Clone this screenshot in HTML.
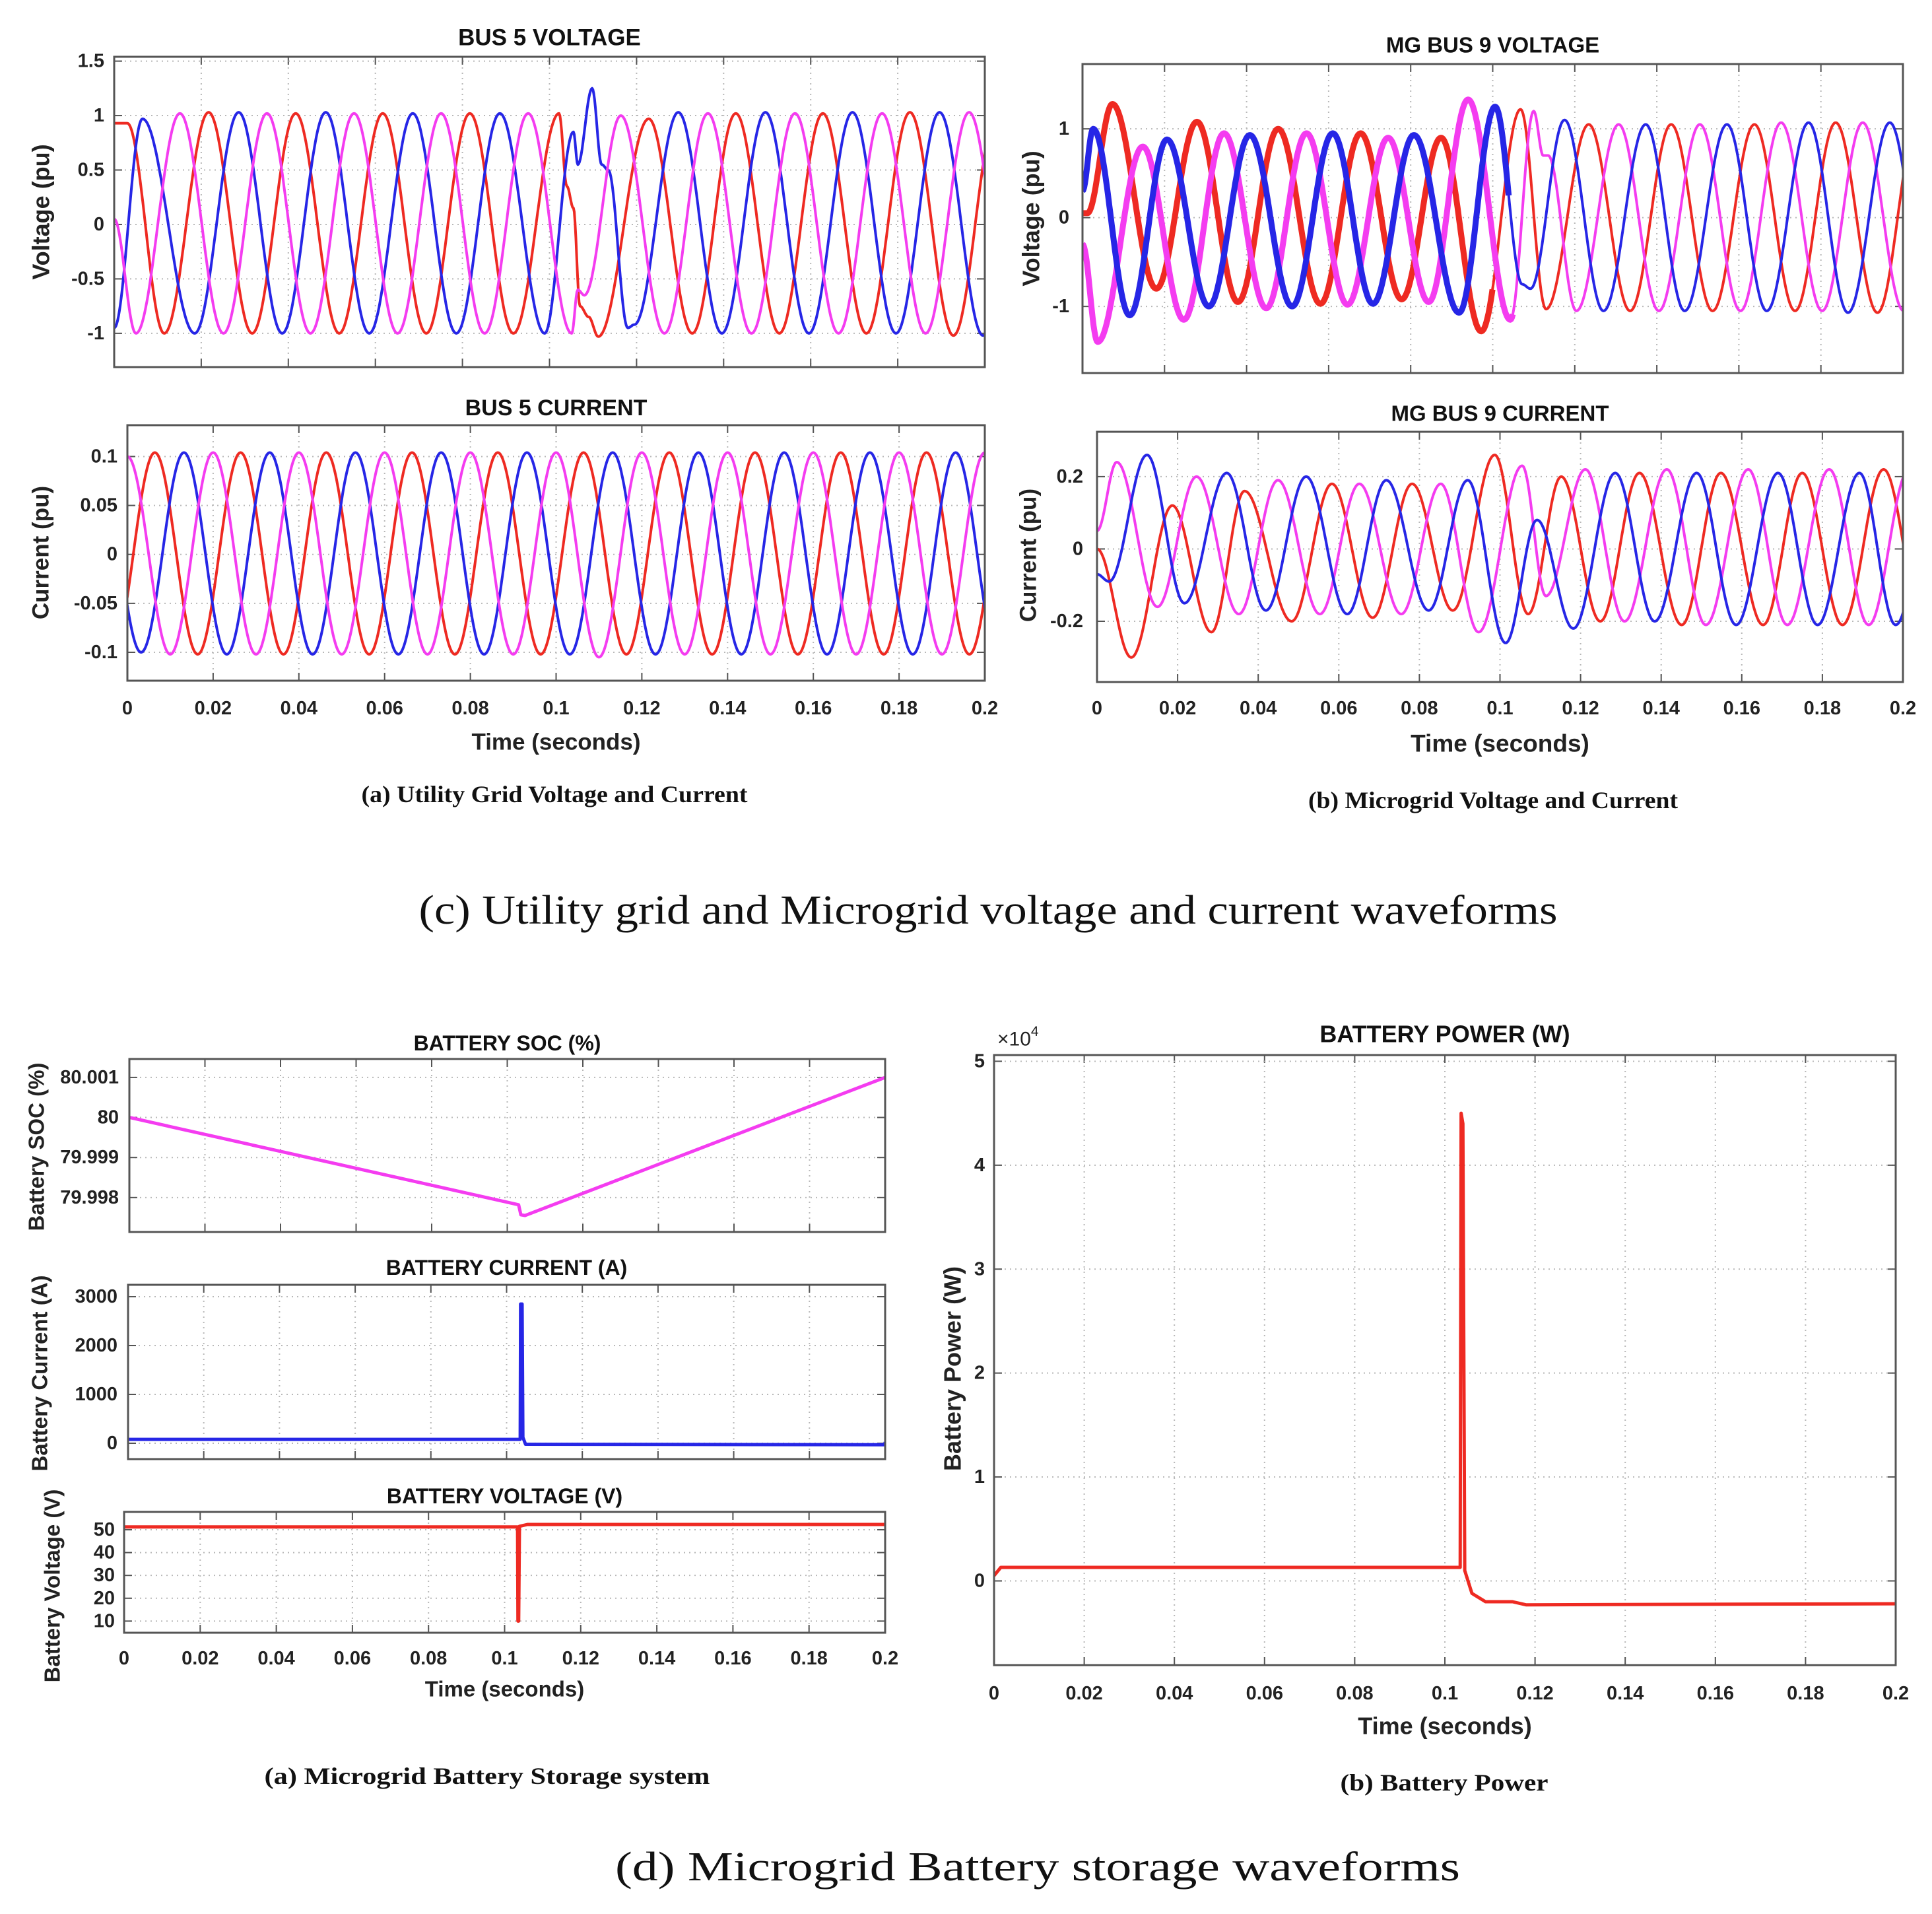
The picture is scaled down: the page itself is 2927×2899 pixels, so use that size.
<!DOCTYPE html>
<html><head><meta charset="utf-8">
<style>
html,body{margin:0;padding:0;background:#fff;}
svg{display:block;}
.tk{font-family:"Liberation Sans",Arial,sans-serif;font-weight:bold;font-size:28px;fill:#222;}
.ttl{font-family:"Liberation Sans",Arial,sans-serif;font-weight:bold;font-size:30px;fill:#111;}
.cap{font-family:"Liberation Serif","Times New Roman",serif;font-weight:bold;font-size:36px;fill:#111;}
.big{font-family:"Liberation Serif","Times New Roman",serif;font-size:62px;fill:#111;}
</style></head>
<body>
<svg id="fig" xmlns="http://www.w3.org/2000/svg" width="2927" height="2899" viewBox="0 0 2927 2899">
<rect x="0" y="0" width="2927" height="2899" fill="#fff"/>
<text class="big" x="1497" y="1379" text-anchor="middle" dominant-baseline="central" textLength="1725" lengthAdjust="spacingAndGlyphs">(c) Utility grid and Microgrid voltage and current waveforms</text>
<text class="big" x="1572" y="2828" text-anchor="middle" dominant-baseline="central" textLength="1280" lengthAdjust="spacingAndGlyphs">(d) Microgrid Battery storage waveforms</text>
<text class="cap" x="840" y="1203" text-anchor="middle" dominant-baseline="central" textLength="585" lengthAdjust="spacingAndGlyphs">(a) Utility Grid Voltage and Current</text>
<text class="cap" x="2262" y="1212" text-anchor="middle" dominant-baseline="central" textLength="560" lengthAdjust="spacingAndGlyphs">(b) Microgrid Voltage and Current</text>
<text class="cap" x="738" y="2690" text-anchor="middle" dominant-baseline="central" textLength="675" lengthAdjust="spacingAndGlyphs">(a) Microgrid Battery Storage system</text>
<text class="cap" x="2188" y="2700" text-anchor="middle" dominant-baseline="central" textLength="315" lengthAdjust="spacingAndGlyphs">(b) Battery Power</text>
</svg>
<script>
// ---- data (knots: [time s, value]) ----
const xTicks = [0,0.02,0.04,0.06,0.08,0.1,0.12,0.14,0.16,0.18,0.2];
const xTickLabels = ["0","0.02","0.04","0.06","0.08","0.1","0.12","0.14","0.16","0.18","0.2"];

const bus5VRed = [[0,0.93],[0.003,0.93],[0.0115,-1],[0.0217,1.03],[0.0317,-1],[0.0417,1.02],[0.0517,-1],[0.0617,1.02],[0.0717,-1],[0.0817,1.02],[0.0917,-1],[0.1022,1.02],[0.104,0.35],[0.1055,0.15],[0.107,-0.75],[0.109,-0.85],[0.1112,-1.03],[0.1228,0.97],[0.1328,-1],[0.1428,1.02],[0.1528,-1],[0.1628,1.02],[0.1728,-1],[0.1828,1.03],[0.1928,-1.02],[0.2028,1.02]];
const bus5VBlue = [[0,-0.95],[0.0065,0.97],[0.0185,-1],[0.0286,1.03],[0.0386,-1],[0.0486,1.03],[0.0586,-1],[0.0686,1.02],[0.0786,-1],[0.0886,1.02],[0.0989,-1],[0.1055,0.85],[0.1065,0.55],[0.1098,1.25],[0.112,0.55],[0.1135,0.5],[0.118,-0.95],[0.1195,-0.92],[0.1296,1.03],[0.1396,-1],[0.1496,1.03],[0.1596,-1],[0.1696,1.03],[0.1796,-1],[0.1896,1.03],[0.1996,-1.02],[0.2096,1]];
const bus5VPink = [[0,0.05],[0.005,-1],[0.0151,1.02],[0.0251,-1],[0.0351,1.02],[0.0451,-1],[0.0551,1.02],[0.0651,-1],[0.0751,1.02],[0.0851,-1],[0.0951,1.02],[0.1051,-1],[0.1065,-0.6],[0.108,-0.65],[0.1164,1.0],[0.1264,-1],[0.1364,1.02],[0.1464,-1],[0.1564,1.02],[0.1664,-1],[0.1764,1.02],[0.1864,-1],[0.1964,1.03],[0.2064,-1]];

const bus5IRed = [[-0.0036,-0.102],[0.0064,0.104],[0.0164,-0.102],[0.0264,0.104],[0.0364,-0.102],[0.0464,0.104],[0.0564,-0.102],[0.0664,0.104],[0.0764,-0.102],[0.0864,0.104],[0.0964,-0.102],[0.1064,0.104],[0.1164,-0.102],[0.1264,0.104],[0.1364,-0.102],[0.1464,0.104],[0.1564,-0.102],[0.1664,0.104],[0.1764,-0.102],[0.1864,0.104],[0.1964,-0.102],[0.2064,0.104]];
const bus5IBlue = [[-0.0068,0.104],[0.0032,-0.1],[0.0132,0.104],[0.0232,-0.102],[0.0332,0.104],[0.0432,-0.102],[0.0532,0.104],[0.0632,-0.102],[0.0732,0.104],[0.0832,-0.102],[0.0932,0.104],[0.1032,-0.102],[0.1132,0.104],[0.1232,-0.102],[0.1332,0.104],[0.1432,-0.102],[0.1532,0.104],[0.1632,-0.102],[0.1732,0.104],[0.1832,-0.102],[0.1932,0.104],[0.2032,-0.102]];
const bus5IPink = [[0,0.1],[0.01,-0.102],[0.02,0.104],[0.03,-0.102],[0.04,0.104],[0.05,-0.102],[0.06,0.104],[0.07,-0.102],[0.08,0.104],[0.09,-0.102],[0.1,0.104],[0.11,-0.105],[0.12,0.104],[0.13,-0.102],[0.14,0.104],[0.15,-0.102],[0.16,0.104],[0.17,-0.102],[0.18,0.104],[0.19,-0.102],[0.2,0.104]];

const mgVRed = [[0,0.05],[0.0012,0.05],[0.0073,1.28],[0.018,-0.8],[0.0279,1.08],[0.0379,-0.95],[0.0477,1.0],[0.058,-0.97],[0.0678,0.95],[0.0778,-0.92],[0.0874,0.9],[0.0972,-1.28],[0.1068,1.22],[0.113,-1.03],[0.1234,1.05],[0.1335,-1.05],[0.1435,1.05],[0.1536,-1.05],[0.1638,1.05],[0.1737,-1.05],[0.1836,1.07],[0.1938,-1.07],[0.2036,1.07]];
const mgVBlue = [[0,0.3],[0.0026,1.0],[0.0115,-1.1],[0.0206,0.88],[0.0308,-1.0],[0.0408,0.93],[0.0511,-1.0],[0.061,0.95],[0.0708,-0.97],[0.0808,0.93],[0.0918,-1.07],[0.1006,1.25],[0.1072,-0.75],[0.1092,-0.8],[0.1175,1.1],[0.127,-1.05],[0.1373,1.05],[0.1468,-1.05],[0.1571,1.05],[0.1668,-1.05],[0.177,1.07],[0.1866,-1.07],[0.1968,1.07],[0.2066,-1.05]];
const mgVPink = [[0,-0.3],[0.0037,-1.4],[0.0147,0.8],[0.0247,-1.15],[0.0345,0.95],[0.0448,-1.02],[0.0546,0.95],[0.0646,-0.98],[0.0745,0.9],[0.0844,-0.95],[0.094,1.33],[0.1043,-1.15],[0.110,1.2],[0.1123,0.7],[0.1135,0.7],[0.1204,-1.05],[0.1307,1.05],[0.1405,-1.05],[0.1505,1.05],[0.1604,-1.05],[0.1703,1.07],[0.1803,-1.05],[0.1902,1.07],[0.2002,-1.05]];

const mgIRed = [[0,0.0],[0.0085,-0.3],[0.0187,0.12],[0.0284,-0.23],[0.0366,0.16],[0.0483,-0.2],[0.0583,0.18],[0.0684,-0.19],[0.0782,0.18],[0.0883,-0.17],[0.0987,0.26],[0.107,-0.18],[0.1152,0.2],[0.1249,-0.2],[0.1346,0.21],[0.1451,-0.21],[0.1548,0.21],[0.1653,-0.21],[0.175,0.21],[0.185,-0.21],[0.1952,0.22],[0.2052,-0.21]];
const mgIBlue = [[0,-0.07],[0.003,-0.09],[0.0124,0.26],[0.0217,-0.15],[0.0322,0.21],[0.0419,-0.17],[0.0519,0.2],[0.0621,-0.18],[0.0718,0.19],[0.0823,-0.17],[0.092,0.19],[0.1014,-0.26],[0.1092,0.08],[0.1182,-0.22],[0.1286,0.21],[0.1384,-0.2],[0.1488,0.21],[0.1586,-0.21],[0.169,0.21],[0.1788,-0.21],[0.1892,0.21],[0.1982,-0.21],[0.2082,0.21]];
const mgIPink = [[0,0.05],[0.0049,0.24],[0.015,-0.16],[0.0247,0.2],[0.0352,-0.18],[0.0449,0.19],[0.0553,-0.18],[0.0651,0.18],[0.0755,-0.18],[0.0853,0.18],[0.0947,-0.23],[0.1055,0.23],[0.1114,-0.13],[0.1212,0.22],[0.1309,-0.2],[0.1414,0.22],[0.1511,-0.21],[0.1616,0.22],[0.1713,-0.21],[0.1817,0.22],[0.1915,-0.21],[0.2015,0.22]];

const socSeries = [[0,80.0],[0.103,79.99782],[0.1036,79.99757],[0.1047,79.99755],[0.2,80.001]];
const batCurrent = [[0,80],[0.1036,80],[0.1037,2850],[0.1041,2850],[0.1043,120],[0.105,-20],[0.2,-30],[0.2,30]];
const batVoltage = [[0,51.2],[0.1034,51.2],[0.1035,10],[0.1037,10],[0.1039,51.5],[0.106,52.3],[0.2,52.3]];
const batPower = [[0,0.05],[0.0015,0.13],[0.1034,0.13],[0.1036,4.5],[0.104,4.4],[0.1044,0.1],[0.106,-0.12],[0.109,-0.2],[0.115,-0.2],[0.118,-0.23],[0.2,-0.22]];

// ---- drawing ----
const NS = "http://www.w3.org/2000/svg";
const svg = document.getElementById('fig');
const RED = '#ee2a22', BLUE = '#2626e6', PINK = '#f43cf0';
function mk(tag, attrs, parent) {
  const e = document.createElementNS(NS, tag);
  for (const k in attrs) e.setAttribute(k, attrs[k]);
  (parent || svg).appendChild(e);
  return e;
}
let clipId = 0;
function axes(c) {
  const g = mk('g', {});
  
  
  const [x0, y0, x1, y1] = c.box;
  const sx = t => x0 + (t / 0.2) * (x1 - x0);
  const sy = v => y1 - (v - c.ymin) / (c.ymax - c.ymin) * (y1 - y0);
  xTicks.forEach((t, i) => {
    if (i > 0 && i < xTicks.length - 1) {
      const gl = mk('line', {x1: sx(t), x2: sx(t), y1: y0, y2: y1, stroke: '#b8b8b8', 'stroke-width': 2, 'stroke-dasharray': '2,6'}, g);
      
      
    }
    mk('line', {x1: sx(t), x2: sx(t), y1: y1, y2: y1 - 12, stroke: '#555', 'stroke-width': 2}, g);
    mk('line', {x1: sx(t), x2: sx(t), y1: y0, y2: y0 + 12, stroke: '#555', 'stroke-width': 2}, g);
    if (c.xlabels) {
      const tl = mk('text', {x: sx(t), y: c.xlabelY, 'text-anchor': 'middle', 'dominant-baseline': 'central', class: 'tk', style: 'font-size:' + (c.tickSize || 29) + 'px'}, g);
      tl.textContent = xTickLabels[i];
      
      
    }
  });
  c.yticks.forEach((v, i) => {
    const y = sy(v);
    const gl = mk('line', {x1: x0, x2: x1, y1: y, y2: y, stroke: '#b8b8b8', 'stroke-width': 2, 'stroke-dasharray': '2,6'}, g);
    
    
    mk('line', {x1: x0, x2: x0 + 12, y1: y, y2: y, stroke: '#555', 'stroke-width': 2}, g);
    mk('line', {x1: x1, x2: x1 - 12, y1: y, y2: y, stroke: '#555', 'stroke-width': 2}, g);
    const tl = mk('text', {x: c.ylabRight, y: y, 'text-anchor': 'end', 'dominant-baseline': 'central', class: 'tk', style: 'font-size:' + (c.tickSize || 29) + 'px'}, g);
    tl.textContent = c.ytickLabels[i];
    
    
  });
  const id = 'clip' + (clipId++);
  const cp = mk('clipPath', {id: id}, g);
  mk('rect', {x: x0, y: y0, width: x1 - x0, height: y1 - y0}, cp);
  c.series.forEach(s => {
    let pts = [];
    const d = s.data;
    if (s.smooth) {
      for (let k = 0; k < d.length - 1; k++) {
        const [ta, va] = d[k], [tb, vb] = d[k + 1];
        const n = Math.max(2, Math.ceil((tb - ta) / 0.0002));
        for (let j = 0; j < n; j++) {
          const u = j / n;
          const v = va + (vb - va) * (1 - Math.cos(Math.PI * u)) / 2;
          pts.push(sx(ta + (tb - ta) * u).toFixed(1) + ',' + sy(v).toFixed(1));
        }
      }
      const L = d[d.length - 1];
      pts.push(sx(L[0]).toFixed(1) + ',' + sy(L[1]).toFixed(1));
    } else {
      pts = d.map(p => sx(p[0]).toFixed(1) + ',' + sy(p[1]).toFixed(1));
    }
    if (s.thickUntil) {
      const thick = mk('polyline', {points: pts.filter(p => +p.split(',')[0] <= sx(s.thickUntil)).join(' '), fill: 'none', stroke: s.color, 'stroke-width': 9, 'stroke-linejoin': 'round', 'clip-path': 'url(#' + id + ')'}, g);
      
      
    }
    const pl = mk('polyline', {points: pts.join(' '), fill: 'none', stroke: s.color, 'stroke-width': s.w || 4, 'stroke-linejoin': 'round', 'clip-path': 'url(#' + id + ')'}, g);
    
    
  });
  const fr = mk('rect', {x: x0, y: y0, width: x1 - x0, height: y1 - y0, fill: 'none', stroke: '#555', 'stroke-width': 3}, g);
  
  
  const tt = mk('text', {x: (x0 + x1) / 2, y: c.titleY, 'text-anchor': 'middle', 'dominant-baseline': 'central', class: 'ttl', style: 'font-size:' + c.titleSize + 'px'}, g);
  tt.textContent = c.title;
  
  
  const yl = mk('text', {x: 0, y: 0, 'text-anchor': 'middle', 'dominant-baseline': 'central', class: 'tk', style: 'font-size:' + c.ylabSize + 'px', transform: 'translate(' + c.ylabX + ',' + c.ylabY + ') rotate(-90)'}, g);
  yl.textContent = c.ylabel;
  
  
  if (c.xtitleY) {
    const xt = mk('text', {x: (x0 + x1) / 2, y: c.xtitleY, 'text-anchor': 'middle', 'dominant-baseline': 'central', class: 'tk', style: 'font-size:' + c.xtitleSize + 'px'}, g);
    xt.textContent = 'Time (seconds)';
    
    
  }
}

axes({name: 'bus5-voltage-plot', box: [173, 86, 1492, 556], ymin: -1.31, ymax: 1.54, yticks: [-1, -0.5, 0, 0.5, 1, 1.5], ytickLabels: ['-1', '-0.5', '0', '0.5', '1', '1.5'], ylabRight: 158, title: 'BUS 5 VOLTAGE', titleY: 57, titleSize: 35, ylabel: 'Voltage (pu)', ylabSize: 36, ylabX: 62, ylabY: 321,
  series: [{name: 'bus5-voltage-red', data: bus5VRed, color: RED, smooth: 1}, {name: 'bus5-voltage-blue', data: bus5VBlue, color: BLUE, smooth: 1}, {name: 'bus5-voltage-pink', data: bus5VPink, color: PINK, smooth: 1}]});
axes({name: 'bus5-current-plot', box: [193, 644, 1492, 1031], ymin: -0.129, ymax: 0.132, yticks: [-0.1, -0.05, 0, 0.05, 0.1], ytickLabels: ['-0.1', '-0.05', '0', '0.05', '0.1'], ylabRight: 178, title: 'BUS 5 CURRENT', titleY: 618, titleSize: 34, ylabel: 'Current (pu)', ylabSize: 35, ylabX: 62, ylabY: 837,
  xlabels: 1, xlabelY: 1073, xtitleY: 1124, xtitleSize: 35,
  series: [{name: 'bus5-current-red', data: bus5IRed, color: RED, smooth: 1}, {name: 'bus5-current-blue', data: bus5IBlue, color: BLUE, smooth: 1}, {name: 'bus5-current-pink', data: bus5IPink, color: PINK, smooth: 1}]});
axes({name: 'mg-bus9-voltage-plot', box: [1640, 97, 2883, 565], ymin: -1.75, ymax: 1.73, yticks: [-1, 0, 1], ytickLabels: ['-1', '0', '1'], ylabRight: 1620, title: 'MG BUS 9 VOLTAGE', titleY: 68, titleSize: 33, ylabel: 'Voltage (pu)', ylabSize: 36, ylabX: 1562, ylabY: 331,
  series: [{name: 'mg-voltage-red', data: mgVRed, color: RED, smooth: 1, thickUntil: 0.1}, {name: 'mg-voltage-pink', data: mgVPink, color: PINK, smooth: 1, thickUntil: 0.105}, {name: 'mg-voltage-blue', data: mgVBlue, color: BLUE, smooth: 1, thickUntil: 0.104}]});
axes({name: 'mg-bus9-current-plot', box: [1662, 654, 2883, 1033], ymin: -0.368, ymax: 0.324, yticks: [-0.2, 0, 0.2], ytickLabels: ['-0.2', '0', '0.2'], ylabRight: 1641, title: 'MG BUS 9 CURRENT', titleY: 626, titleSize: 33, ylabel: 'Current (pu)', ylabSize: 35, ylabX: 1558, ylabY: 841,
  xlabels: 1, xlabelY: 1073, xtitleY: 1126, xtitleSize: 37,
  series: [{name: 'mg-current-red', data: mgIRed, color: RED, smooth: 1}, {name: 'mg-current-pink', data: mgIPink, color: PINK, smooth: 1}, {name: 'mg-current-blue', data: mgIBlue, color: BLUE, smooth: 1}]});
axes({name: 'battery-soc-plot', box: [196, 1604, 1341, 1866], ymin: 79.99714, ymax: 80.00146, yticks: [79.998, 79.999, 80, 80.001], ytickLabels: ['79.998', '79.999', '80', '80.001'], ylabRight: 180, title: 'BATTERY SOC (%)', titleY: 1580, titleSize: 32, ylabel: 'Battery SOC (%)', ylabSize: 33, ylabX: 55, ylabY: 1737,
  series: [{name: 'battery-soc-line', data: socSeries, color: PINK, w: 5}]});
axes({name: 'battery-current-plot', box: [194, 1946, 1341, 2210], ymin: -324, ymax: 3243, yticks: [0, 1000, 2000, 3000], ytickLabels: ['0', '1000', '2000', '3000'], ylabRight: 178, title: 'BATTERY CURRENT (A)', titleY: 1920, titleSize: 32, ylabel: 'Battery Current (A)', ylabSize: 33, ylabX: 60, ylabY: 2080,
  series: [{name: 'battery-current-line', data: batCurrent, color: BLUE, w: 5}]});
axes({name: 'battery-voltage-plot', box: [188, 2290, 1341, 2473], ymin: 4.9, ymax: 57.8, yticks: [10, 20, 30, 40, 50], ytickLabels: ['10', '20', '30', '40', '50'], ylabRight: 174, title: 'BATTERY VOLTAGE (V)', titleY: 2266, titleSize: 32, ylabel: 'Battery Voltage (V)', ylabSize: 33, ylabX: 79, ylabY: 2402,
  xlabels: 1, xlabelY: 2512, xtitleY: 2558, xtitleSize: 33,
  series: [{name: 'battery-voltage-line', data: batVoltage, color: RED, w: 5}]});
axes({name: 'battery-power-plot', box: [1506, 1598, 2872, 2522], ymin: -0.81, ymax: 5.06, yticks: [0, 1, 2, 3, 4, 5], ytickLabels: ['0', '1', '2', '3', '4', '5'], ylabRight: 1492, title: 'BATTERY POWER (W)', titleY: 1566, titleSize: 36, ylabel: 'Battery Power (W)', ylabSize: 36, ylabX: 1443, ylabY: 2073,
  xlabels: 1, xlabelY: 2565, xtitleY: 2614, xtitleSize: 36,
  series: [{name: 'battery-power-line', data: batPower, color: RED, w: 5}]});
const ex = mk('text', {x: 1511, y: 1574, class: 'tk', 'dominant-baseline': 'central', 'font-weight': 'normal', style: 'font-size:30px;font-weight:normal'});
ex.innerHTML = '×10<tspan dy="-12" style="font-size:21px">4</tspan>';


</script>
</body></html>
